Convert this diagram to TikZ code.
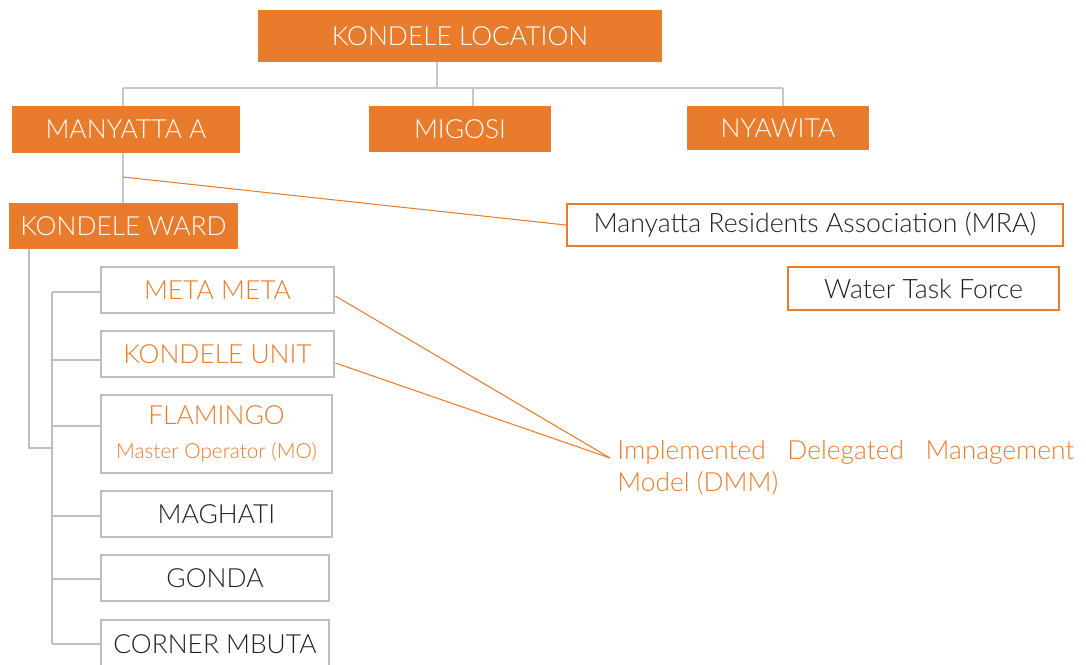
\documentclass[tikz,border=0pt]{standalone}
\usepackage{fontspec}
\setmainfont{Lato Light}
\definecolor{orng}{HTML}{E97C2C}
\definecolor{gry}{HTML}{BEBEBE}
\definecolor{dark}{HTML}{231F20}
\begin{document}
\begin{tikzpicture}[x=0.02cm,y=-0.02cm,
  obox/.style={fill=orng,draw=none,text=white,inner sep=0pt,font=\fontsize{15}{17}\selectfont},
  wbox/.style={fill=white,draw=orng,line width=1.4pt,text=dark,inner sep=0pt,font=\fontsize{15.2}{17}\selectfont},
  gbox/.style={fill=white,draw=gry,line width=1.6pt,inner sep=0pt,font=\fontsize{15}{17}\selectfont},
  tline/.style={draw=gry!85,line width=0.8pt},
  bline/.style={draw=gry,line width=1.4pt},
  oline/.style={draw=orng,line width=0.6pt}]
\useasboundingbox (0,0) rectangle (1086,664);
% top level
\node[obox,minimum width=8.08cm,minimum height=1.04cm] (loc) at (460,36) {KONDELE LOCATION};
\node[obox,minimum width=4.56cm,minimum height=0.94cm] (many) at (126,129.5) {MANYATTA A};
\node[obox,minimum width=3.64cm,minimum height=0.92cm] (mig) at (460,129) {MIGOSI};
\node[obox,minimum width=3.64cm,minimum height=0.88cm] (nya) at (778,128) {NYAWITA};
\node[obox,minimum width=4.58cm,minimum height=0.92cm] (ward) at (123.5,226) {KONDELE WARD};
\node[wbox,minimum width=9.92cm,minimum height=0.84cm] (mra) at (815,225) {Manyatta Residents Association (MRA)};
\node[wbox,minimum width=5.42cm,minimum height=0.86cm] (wtf) at (923.5,288.5) {Water Task Force};
% sub units
\node[gbox,text=orng,minimum width=4.66cm,minimum height=0.92cm] (meta) at (217.5,290) {META META};
\node[gbox,text=orng,minimum width=4.66cm,minimum height=0.92cm] (unit) at (217.5,354) {KONDELE UNIT};
\node[gbox,text=orng,minimum width=4.62cm,minimum height=1.56cm,align=center] (flam) at (216.5,434) {FLAMINGO\\[2pt]{\fontsize{11.8}{13}\selectfont Master Operator (MO)}};
\node[gbox,text=dark,minimum width=4.62cm,minimum height=0.92cm] (magh) at (216.5,514) {MAGHATI};
\node[gbox,text=dark,minimum width=4.56cm,minimum height=0.92cm] (gonda) at (215,578) {GONDA};
\node[gbox,text=dark,minimum width=4.56cm,minimum height=0.96cm] (corner) at (215,644) {CORNER MBUTA};
% DMM text
\node[text=orng,anchor=north west,inner sep=0pt,text width=9.14cm,font=\fontsize{15}{18}\selectfont,align=justify] (dmm) at (617,440) {Implemented Delegated Management Model (DMM)};
% top tree
\coordinate (hub) at (437,88);
\coordinate (hl) at (123,88);
\coordinate (hr) at (783,88);
\draw[tline] (loc.south -| hub) -- (hub);
\draw[tline] (hl) -- (hr);
\draw[tline] (hl) -- (many.north -| hl);
\draw[tline] (mig.north -| 473,0) -- (473,88);
\draw[tline] (hr) -- (nya.north -| hr);
\draw[tline] (many.south -| hl) -- (ward.north -| hl);
\coordinate (mrapt) at (123,177);
\draw[oline] (mrapt) -- (mra.west);
% ward tree
\coordinate (wb) at (29,249);
\coordinate (bustop) at (52,292);
\coordinate (busbot) at (52,644);
\draw[bline] (wb) |- (52,448);
\draw[bline] (bustop) -- (busbot);
\draw[bline] (bustop) -- (meta.west |- bustop);
\draw[bline] (52,360) -- (unit.west |- 0,360);
\draw[bline] (52,426) -- (flam.west |- 0,426);
\draw[bline] (52,516) -- (magh.west |- 0,516);
\draw[bline] (52,579) -- (gonda.west |- 0,579);
\draw[bline] (busbot) -- (corner.west |- busbot);
% DMM connectors
\coordinate (dmmpt) at (610,458);
\draw[oline] ([yshift=-0.12cm]meta.east) -- (dmmpt);
\draw[oline] ([yshift=-0.18cm]unit.east) -- (dmmpt);
\end{tikzpicture}
\end{document}
